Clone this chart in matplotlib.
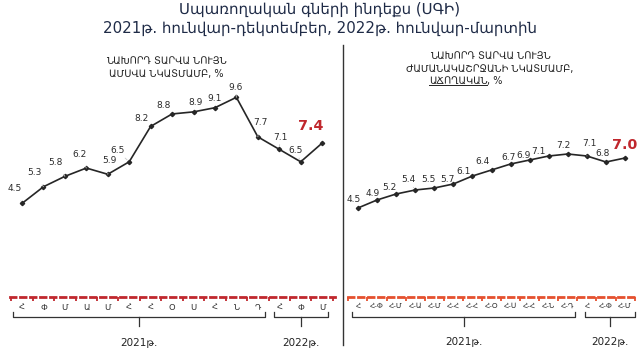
import matplotlib.pyplot as plt

# data
months_2021 = ["Հ", "Փ", "Մ", "Ա", "Մ", "Հ", "Հ", "Օ", "Ս", "Հ", "Ն", "Դ"]
months_2022 = ["Հ", "Փ", "Մ"]
cum_2021 = ["Հ", "Հ-Փ", "Հ-Մ", "Հ-Ա", "Հ-Մ", "Հ-Հ", "Հ-Հ", "Հ-Օ", "Հ-Ս", "Հ-Հ", "Հ-Ն", "Հ-Դ"]
cum_2022 = ["Հ", "Հ-Փ", "Հ-Մ"]
monthly_values = [4.5, 5.3, 5.8, 6.2, 5.9, 6.5, 8.2, 8.8, 8.9, 9.1, 9.6, 7.7, 7.1, 6.5, 7.4]
cumulative_values = [4.5, 4.9, 5.2, 5.4, 5.5, 5.7, 6.1, 6.4, 6.7, 6.9, 7.1, 7.2, 7.1, 6.8, 7.0]
year_labels = ["2021թ.", "2022թ."]

title = "Սպառողական գների ինդեքս (ՍԳԻ)\n2021թ. հունվար-դեկտեմբեր, 2022թ. հունվար-մարտին"
left_sub = "ՆԱԽՈՐԴ ՏԱՐՎԱ ՆՈՒՅՆ\nԱՄՍՎԱ ՆԿԱՏՄԱՄԲ, %"
right_sub = "ՆԱԽՈՐԴ ՏԱՐՎԱ ՆՈՒՅՆ\nԺԱՄԱՆԱԿԱՇՐՋԱՆԻ ՆԿԱՏՄԱՄԲ,"
right_sub2 = "ԱՃՈՂԱԿԱՆ"

# label offsets in pixels (label minus point)
left_offsets = [(-7, 15), (-9, 14), (-9, 14), (-7, 14), (2, 14), (-12, 11), (-9, 8), (-9, 8),
                (2, 9), (0, 9), (-1, 10), (3, 14), (1, 12), (-5, 11), (-11, 17)]
right_offsets = [(-4, 9), (-4, 7), (-7, 7), (-7, 10), (-6, 8), (-6, 5), (-9, 5), (-9, 8),
                 (-2, 7), (-6, 5), (-10, 4), (-4, 9), (2, 13), (-3, 8), (0, 13)]


def draw_panel(ax, values, labels, offsets, axis_color, xlim, ylim, brackets, tick_size):
    x = list(range(len(values)))
    ax.plot(x, values, color="#262626", lw=1.2, marker="D", markersize=2.2, zorder=3)

    # value labels, the last one big and red
    for i, v in enumerate(values):
        last = i == len(values) - 1
        dx, dy = offsets[i]
        ax.annotate(f"{v:.1f}", (i, v), xytext=(dx, dy), textcoords="offset pixels",
                    ha="center", va="center",
                    fontsize=10.3 if last else 6.5,
                    fontweight="bold" if last else "normal",
                    color="#c0272d" if last else "#2b2b2b",
                    arrowprops=None if last or abs(dy) < 10 else
                    dict(arrowstyle="-", color="#c8c8c8", lw=0.6, shrinkA=4, shrinkB=2))

    ax.set_xlim(*xlim)
    ax.set_ylim(*ylim)
    ax.set_yticks([])
    ax.set_xticks(x)
    ax.set_xticklabels(labels, fontsize=tick_size, color="#333333")
    ax.tick_params(axis="x", length=0, pad=4)
    ax.set_xticks([i + 0.5 for i in range(-1, len(values))], minor=True)
    ax.tick_params(axis="x", which="minor", length=3, width=1.3, color=axis_color, direction="out")
    for side in ["top", "left", "right"]:
        ax.spines[side].set_visible(False)
    ax.spines["bottom"].set_color(axis_color)
    ax.spines["bottom"].set_linewidth(2.0)
    ax.spines["bottom"].set_linestyle((0, (2, 1.6)))

    # year brackets under the month labels
    for (x0, x1), name in zip(brackets, year_labels):
        ax.plot([x0, x0, x1, x1], [-0.72, -0.96, -0.96, -0.72], color="#333333", lw=0.9,
                clip_on=False)
        mid = (x0 + x1) / 2
        ax.plot([mid, mid], [-0.96, -1.4], color="#333333", lw=0.9, clip_on=False)
        ax.text(mid, -2.2, name, ha="center", va="center", fontsize=7.5, color="#222222")


fig = plt.figure(figsize=(6.4, 3.6), dpi=100)
fig.patch.set_facecolor("white")

ax1 = fig.add_axes([10 / 640, 63 / 360, 325 / 640, 237 / 360])
ax2 = fig.add_axes([348 / 640, 63 / 360, 287 / 640, 237 / 360])

draw_panel(ax1, monthly_values, months_2021 + months_2022, left_offsets, "#c0272d",
           (-0.56, 14.6), (0, 237 / 20.8), [(-0.42, 11.34), (11.76, 14.28)], 6)
draw_panel(ax2, cumulative_values, cum_2021 + cum_2022, right_offsets, "#e5502e",
           (-0.52, 14.52), (0.05, 0.05 + 237 / 20), [(-0.31, 11.4), (11.9, 14.5)], 5.3)

# titles
fig.text(0.5, 1 - 19 / 360, title, ha="center", va="center", fontsize=10.8,
         color="#1f2b47", linespacing=1.3)
fig.text(166 / 640, 1 - 67 / 360, left_sub, ha="center", va="center", fontsize=7,
         color="#222222", linespacing=1.4)
fig.text(490 / 640, 1 - 62 / 360, right_sub, ha="center", va="center", fontsize=7,
         color="#222222", linespacing=1.4)

# third subtitle line: underlined word followed by ", %"
word = fig.text(490 / 640 - 0.004, 1 - 81 / 360, right_sub2, ha="right", va="center",
                fontsize=7, color="#222222")
fig.text(490 / 640 - 0.004, 1 - 81 / 360, ", %", ha="left", va="center", fontsize=7,
         color="#222222")
fig.canvas.draw()
box = word.get_window_extent().transformed(fig.transFigure.inverted())
fig.add_artist(plt.Line2D([box.x0, box.x1], [box.y0 + 0.002, box.y0 + 0.002],
                          color="#222222", lw=0.7))

# divider line between the two panels
fig.add_artist(plt.Line2D([343 / 640, 343 / 640], [1 - 45 / 360, 1 - 345 / 360],
                          color="#333333", lw=1))

fig.savefig("out.png", dpi=100)
